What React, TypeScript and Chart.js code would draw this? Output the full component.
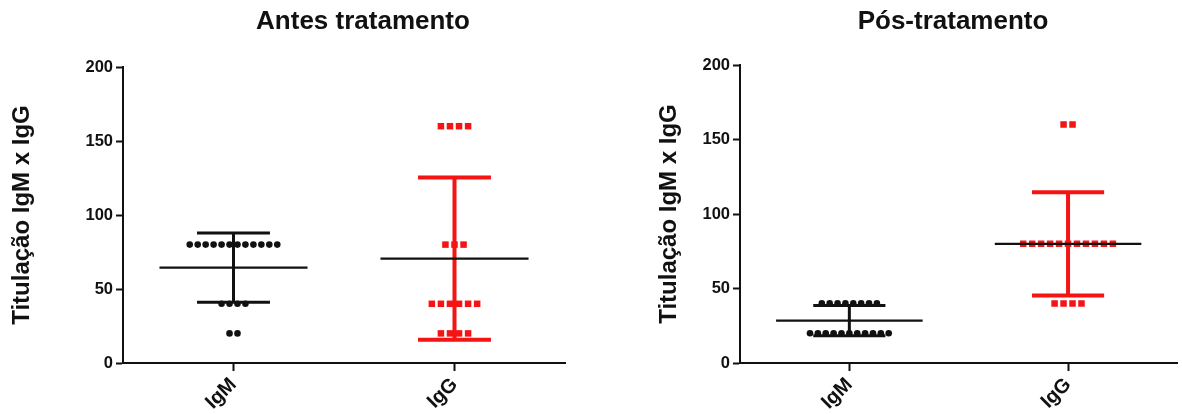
import React, { useEffect, useRef } from 'react';
import { Chart, registerables } from 'chart.js';

Chart.register(...registerables);

// ---------- data ----------
const categories = ['IgM', 'IgG'];
const yTicks = [0, 50, 100, 150, 200];
const yTitle = 'Titulação IgM x IgG';
const panelTitles = ['Antes tratamento', 'Pós-tratamento'];

const antesIgM = [80, 80, 80, 80, 80, 80, 80, 80, 80, 80, 80, 80, 40, 40, 40, 40, 20, 20];
const antesIgG = [160, 160, 160, 160, 80, 80, 80, 40, 40, 40, 40, 40, 40, 20, 20, 20, 20];
const posIgM = [40, 40, 40, 40, 40, 40, 40, 40, 20, 20, 20, 20, 20, 20, 20, 20, 20, 20, 20];
const posIgG = [160, 160, 80, 80, 80, 80, 80, 80, 80, 80, 80, 80, 80, 40, 40, 40, 40];

// ---------- style ----------
const FONT = "'Liberation Sans', Arial, Helvetica, sans-serif";
const INK = '#111111';
const RED = '#f41414';

// spread equal values sideways (column scatter)
function spread(values: number[], center: number, step: number) {
  const counts: Record<number, number> = {};
  values.forEach((v) => (counts[v] = (counts[v] || 0) + 1));
  const seen: Record<number, number> = {};
  return values.map((v) => {
    const j = seen[v] || 0;
    seen[v] = j + 1;
    return { x: center + (j - (counts[v] - 1) / 2) * step, y: v };
  });
}

function stats(values: number[]) {
  const n = values.length;
  const mean = values.reduce((a, b) => a + b, 0) / n;
  const sd = Math.sqrt(values.reduce((a, b) => a + (b - mean) * (b - mean), 0) / (n - 1));
  return { mean, sd };
}

const meanSdPlugin = {
  id: 'meanSd',
  afterDatasetsDraw(chart: any, _args: any, opts: any) {
    const xs = chart.scales.x;
    const ys = chart.scales.y;
    const ctx = chart.ctx;
    ctx.save();
    (opts.series || []).forEach((s: any) => {
      const { mean, sd } = stats(s.values);
      const c = s.center;
      const yTop = ys.getPixelForValue(mean + sd);
      const yBot = ys.getPixelForValue(mean - sd);
      const yMean = ys.getPixelForValue(mean);
      ctx.lineCap = 'butt';
      // SD bar
      ctx.strokeStyle = s.color;
      ctx.lineWidth = s.barWidth;
      ctx.beginPath();
      ctx.moveTo(xs.getPixelForValue(c), yTop);
      ctx.lineTo(xs.getPixelForValue(c), yBot);
      ctx.moveTo(xs.getPixelForValue(c - 0.165), yTop);
      ctx.lineTo(xs.getPixelForValue(c + 0.165), yTop);
      ctx.moveTo(xs.getPixelForValue(c - 0.165), yBot);
      ctx.lineTo(xs.getPixelForValue(c + 0.165), yBot);
      ctx.stroke();
      // mean
      ctx.strokeStyle = INK;
      ctx.lineWidth = 2.2;
      ctx.beginPath();
      ctx.moveTo(xs.getPixelForValue(c - 0.335), yMean);
      ctx.lineTo(xs.getPixelForValue(c + 0.335), yMean);
      ctx.stroke();
    });
    ctx.restore();
  },
};

const panelTitlePlugin = {
  id: 'panelTitle',
  afterDraw(chart: any, _args: any, opts: any) {
    const ctx = chart.ctx;
    ctx.save();
    ctx.fillStyle = INK;
    ctx.font = `bold ${opts.size}px ${FONT}`;
    ctx.textAlign = 'center';
    ctx.textBaseline = 'middle';
    ctx.fillText(opts.text, opts.x, opts.y);
    ctx.restore();
  },
};

type PanelCfg = {
  left: number;
  width: number;
  title: string;
  igm: number[];
  igg: number[];
  axisWidth: number;
  padTop: number;
  padRight: number;
  titleX: number;
  yTitlePad: number;
};

function Panel({ cfg }: { cfg: PanelCfg }) {
  const ref = useRef<HTMLCanvasElement>(null);
  useEffect(() => {
    if (!ref.current) return;
    const tickFont = { family: FONT, size: 16.5, weight: 'bold' as const };
    const chart = new Chart(ref.current, {
      type: 'scatter',
      data: {
        datasets: [
          {
            label: categories[0],
            data: spread(cfg.igm, 1, 0.036),
            pointStyle: 'circle',
            pointRadius: 3.3,
            pointBorderWidth: 0,
            backgroundColor: INK,
            borderColor: INK,
          },
          {
            label: categories[1],
            data: spread(cfg.igg, 2, 0.041),
            pointStyle: 'rect',
            pointRadius: 4.6,
            pointBorderWidth: 0,
            backgroundColor: RED,
            borderColor: RED,
          },
        ],
      },
      options: {
        animation: false,
        responsive: false,
        devicePixelRatio: 1,
        layout: { padding: { top: cfg.padTop, right: cfg.padRight, left: 0, bottom: 0 } },
        plugins: {
          legend: { display: false },
          tooltip: { enabled: false },
          title: { display: false },
          meanSd: {
            series: [
              { values: cfg.igm, center: 1, color: INK, barWidth: 3 },
              { values: cfg.igg, center: 2, color: RED, barWidth: 4 },
            ],
          },
          panelTitle: { text: cfg.title, x: cfg.titleX, y: 22, size: 26 },
        } as any,
        scales: {
          x: {
            type: 'linear',
            min: 0.5,
            max: 2.5,
            afterBuildTicks: (s: any) => {
              s.ticks = categories.map((_, i) => ({ value: i + 1 }));
            },
            afterFit: (s: any) => {
              s.height = 51;
            },
            ticks: {
              callback: (_v: any, i: number) => categories[i],
              minRotation: 45,
              maxRotation: 45,
              color: INK,
              font: { family: FONT, size: 20, weight: 'bold' },
              padding: 2,
            },
            grid: {
              display: true,
              drawOnChartArea: false,
              drawTicks: true,
              tickLength: 8,
              tickWidth: 2,
              tickColor: INK,
            },
            border: { display: true, color: INK, width: 2 },
          },
          y: {
            type: 'linear',
            min: 0,
            max: 200,
            afterBuildTicks: (s: any) => {
              s.ticks = yTicks.map((v) => ({ value: v }));
            },
            afterFit: (s: any) => {
              s.width = cfg.axisWidth;
            },
            ticks: { color: INK, font: tickFont, padding: 3 },
            grid: {
              display: true,
              drawOnChartArea: false,
              drawTicks: true,
              tickLength: 7,
              tickWidth: 2,
              tickColor: INK,
            },
            border: { display: true, color: INK, width: 2 },
            title: {
              display: true,
              text: yTitle,
              color: INK,
              font: { family: FONT, size: 24, weight: 'bold' },
              padding: { top: cfg.yTitlePad, bottom: 0 },
            },
          },
        },
      },
      plugins: [meanSdPlugin, panelTitlePlugin],
    });
    return () => chart.destroy();
  }, [cfg]);
  return (
    <div style={{ position: 'absolute', left: cfg.left, top: 0, width: cfg.width, height: 414 }}>
      <canvas ref={ref} width={cfg.width} height={414} style={{ display: 'block' }} />
    </div>
  );
}

const panels: PanelCfg[] = [
  {
    left: 0,
    width: 591,
    title: panelTitles[0],
    igm: antesIgM,
    igg: antesIgG,
    axisWidth: 123,
    padTop: 67,
    padRight: 26,
    titleX: 363,
    yTitlePad: 8,
  },
  {
    left: 591,
    width: 591,
    title: panelTitles[1],
    igm: posIgM,
    igg: posIgG,
    axisWidth: 149,
    padTop: 65,
    padRight: 1,
    titleX: 362,
    yTitlePad: 64,
  },
];

export default function App() {
  return (
    <div
      style={{
        position: 'absolute',
        left: 0,
        top: 0,
        width: 1182,
        height: 414,
        background: '#ffffff',
        overflow: 'hidden',
      }}
    >
      {panels.map((p, i) => (
        <Panel key={i} cfg={p} />
      ))}
    </div>
  );
}
